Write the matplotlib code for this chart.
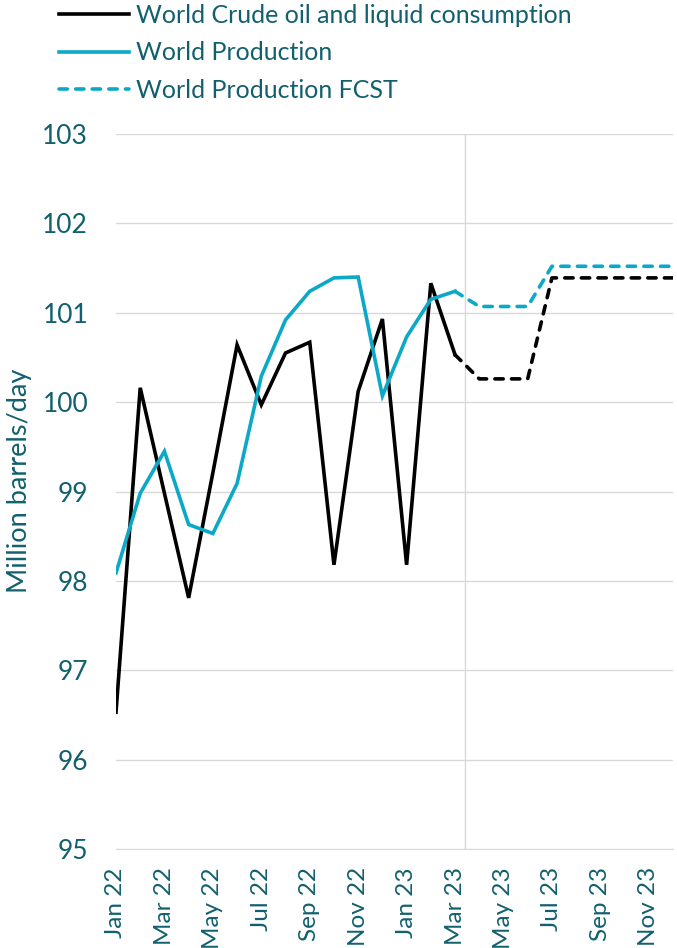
import matplotlib
matplotlib.use("Agg")
import matplotlib.pyplot as plt
from matplotlib.lines import Line2D

plt.rcParams['font.family'] = ['Lato', 'DejaVu Sans']

months = ["Jan 22", "Feb 22", "Mar 22", "Apr 22", "May 22", "Jun 22",
          "Jul 22", "Aug 22", "Sep 22", "Oct 22", "Nov 22", "Dec 22",
          "Jan 23", "Feb 23", "Mar 23", "Apr 23", "May 23", "Jun 23",
          "Jul 23", "Aug 23", "Sep 23", "Oct 23", "Nov 23", "Dec 23"]

# Actuals Jan 22 - Mar 23
consumption = [96.53, 100.16, 98.98, 97.81, 99.21, 100.64, 99.97, 100.55,
               100.67, 98.18, 100.12, 100.93, 98.18, 101.33, 100.53]
production = [98.09, 98.98, 99.45, 98.63, 98.53, 99.09, 100.29, 100.92,
              101.24, 101.39, 101.40, 100.07, 100.73, 101.15, 101.24]

# Forecasts Mar 23 - Dec 23
consumption_fcst = [100.53, 100.26, 100.26, 100.26, 101.39, 101.39, 101.39,
                    101.39, 101.39, 101.39]
production_fcst = [101.24, 101.07, 101.07, 101.07, 101.52, 101.52, 101.52,
                   101.52, 101.52, 101.52]

TEXT = "#12606e"
BLUE = "#0ba8c8"
GRID = "#d9d9d9"

fig = plt.figure(figsize=(6.77, 9.48), dpi=100)
ax = fig.add_axes([116 / 677, 1 - 849 / 948, (673 - 116) / 677, (849 - 134) / 948])

x_act = list(range(len(consumption)))
x_fc = list(range(len(consumption) - 1, len(consumption) - 1 + len(consumption_fcst)))

lw = 2.6
dash = (2.3, 2.3)
fc_style = dict(lw=lw, linestyle=(0, dash), dash_capstyle="round")
ax.plot(x_act, consumption, color="black", lw=lw, solid_joinstyle="miter")
ax.plot(x_act, production, color=BLUE, lw=lw, solid_joinstyle="miter")
ax.plot(x_fc, consumption_fcst, color="black", **fc_style)
ax.plot(x_fc, production_fcst, color=BLUE, **fc_style)

ax.axvline(14.4, color=GRID, lw=1, zorder=0)

ax.set_xlim(0, 23)
ax.set_ylim(95, 103)
ax.set_yticks(range(95, 104))
ax.set_xticks(range(0, 24, 2))
ax.set_xticklabels(months[::2], rotation=90)
ax.yaxis.grid(True, color=GRID, lw=1)
ax.set_axisbelow(True)
for s in ["top", "right", "left"]:
    ax.spines[s].set_visible(False)
ax.spines["bottom"].set_color(GRID)
ax.tick_params(length=0, labelcolor=TEXT)
ax.tick_params(axis="y", pad=20, labelsize=19)
ax.tick_params(axis="x", pad=13, labelsize=17.5)
ax.set_ylabel("Million barrels/day", color=TEXT, fontsize=19.5)
ax.yaxis.set_label_coords(-0.150, 0.515)

handles = [
    Line2D([], [], color="black", lw=lw),
    Line2D([], [], color=BLUE, lw=lw),
    Line2D([], [], color=BLUE, **fc_style),
]
labels = ["World Crude oil and liquid consumption", "World Production",
          "World Production FCST"]
leg = fig.legend(handles, labels, loc="upper left", bbox_to_anchor=(59 / 677, 0.996),
                 frameon=False, fontsize=18, handlelength=2.8, handletextpad=0.3,
                 labelspacing=0.58, borderaxespad=0, borderpad=0)
for t in leg.get_texts():
    t.set_color(TEXT)

fig.savefig("out.png", dpi=100)
